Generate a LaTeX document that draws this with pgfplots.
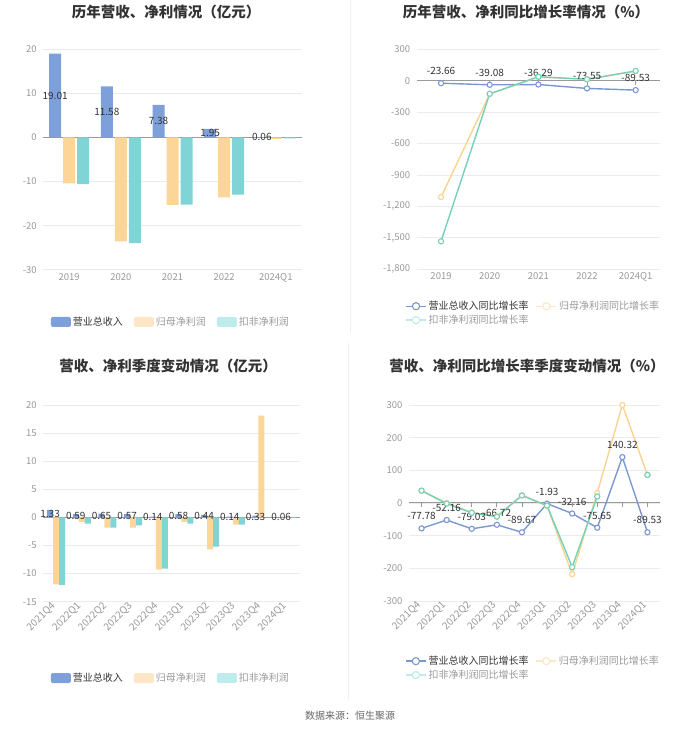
\documentclass[border=0pt]{standalone}
\usepackage{pgfplots}
\pgfplotsset{compat=1.18}
\usepackage{fontspec}
\setmainfont{Noto Sans CJK SC}
\definecolor{cRev}{HTML}{7EA0DA}
\definecolor{cNet}{HTML}{FCD699}
\definecolor{cDed}{HTML}{80D4D6}
\definecolor{cRevLine}{HTML}{7B97D2}
\definecolor{cNetLine}{HTML}{FBD391}
\definecolor{cDedLine}{HTML}{74D1B8}
\definecolor{cNetLg}{HTML}{FEE6C6}
\definecolor{cDedLg}{HTML}{BEEBEB}
\definecolor{txt}{HTML}{333333}
\definecolor{tickc}{HTML}{999999}
\definecolor{gridc}{HTML}{EBEBEB}
\definecolor{zeroc}{HTML}{9A9A9A}
\definecolor{sepc}{HTML}{F0F0F0}
\pgfplotsset{
  panel/.style={
    scale only axis, anchor=south west, clip=false,
    axis line style={draw=none}, tick style={draw=none},
    ymajorgrids, grid style={draw=gridc, line width=0.8pt},
    ticklabel style={font=\fontsize{9.5}{11}\selectfont, text=tickc},
    yticklabel style={xshift=-3pt},
    /pgf/number format/assume math mode=true,
    /pgf/number format/1000 sep={,},
    legend style={draw=none, fill=none, font=\fontsize{10}{12}\selectfont, text=txt,
      /tikz/every even column/.append style={column sep=9pt}},
    legend cell align=left,
  },
  lbl/.style={draw=none, forget plot, nodes near coords, point meta=explicit symbolic,
    nodes near coords style={anchor=center, font=\fontsize{10}{12}\selectfont, text=txt, inner sep=0pt}},
  barlg/.style={legend image code/.code={\fill[#1, rounded corners=2pt] (0pt,-5pt) rectangle (20pt,5pt);}},
  linelg/.style={legend image code/.code={\draw[#1, line width=1.4pt] (0pt,0pt) -- (20pt,0pt); \draw[#1, line width=1.1pt, fill=white] (10pt,0pt) circle (3.6pt);}},
  lineplot/.style={color=#1, line width=1.4pt, mark=*, mark size=2.6pt, mark options={fill=white, line width=1.1pt}},
}
\begin{document}
\begin{tikzpicture}[x=1pt,y=1pt]
\path[use as bounding box] (0pt,0pt) rectangle (700pt,733pt);
\draw[sepc, line width=0.8pt] (350.5pt,733pt) -- (350.5pt,400pt);
\draw[sepc, line width=0.8pt] (348pt,390pt) -- (348pt,33pt);
% titles
\node[font=\bfseries\fontsize{14.5}{16}\selectfont, text=txt] at (166pt,721pt) {历年营收、净利情况（亿元）};
\node[font=\bfseries\fontsize{14.5}{16}\selectfont, text=txt] at (526pt,721pt) {历年营收、净利同比增长率情况（\%）};
\node[font=\bfseries\fontsize{14.5}{16}\selectfont, text=txt] at (168pt,367pt) {营收、净利季度变动情况（亿元）};
\node[font=\bfseries\fontsize{14.5}{16}\selectfont, text=txt] at (527pt,367pt) {营收、净利同比增长率季度变动情况（\%）};
\node[font=\fontsize{10}{12}\selectfont, text=black!60] at (350pt,17pt) {数据来源：恒生聚源};

% ---------- Panel 1 ----------
\begin{axis}[panel, at={(43.3pt,463.3pt)}, width=258.4pt, height=220.4pt,
  xmin=-0.5, xmax=4.5, ymin=-30, ymax=20, ytick={-30,-20,...,20},
  xtick={0,1,2,3,4}, xticklabels={2019,2020,2021,2022,2024Q1},
  legend columns=3, legend style={at={(0.494,-0.237)}, anchor=center}]
\draw[zeroc, line width=1pt] (axis cs:-0.5,0) -- (axis cs:4.5,0);
\addplot[ybar, bar width=12pt, bar shift=-14pt, fill=cRev, draw=none, barlg=cRev]
  coordinates {(0,19.01) (1,11.58) (2,7.38) (3,1.95) (4,0.06)};
\addlegendentry{营业总收入}
\addplot[ybar, bar width=12pt, bar shift=0pt, fill=cNet, draw=none, barlg=cNetLg]
  coordinates {(0,-10.4) (1,-23.6) (2,-15.3) (3,-13.6) (4,-0.3)};
\addlegendentry[text=tickc]{归母净利润}
\addplot[ybar, bar width=12pt, bar shift=14pt, fill=cDed, draw=none, barlg=cDedLg]
  coordinates {(0,-10.6) (1,-24.0) (2,-15.25) (3,-12.95) (4,-0.2)};
\addlegendentry[text=tickc]{扣非净利润}
\addplot[lbl] coordinates {(-0.271,9.505)[19.01] (0.729,5.79)[11.58] (1.729,3.69)[7.38] (2.729,0.975)[1.95] (3.729,0.03)[0.06]};
\end{axis}

% ---------- Panel 2 ----------
\begin{axis}[panel, at={(416.7pt,463.7pt)}, width=243.3pt, height=220pt,
  xmin=-0.5, xmax=4.5, ymin=-1800, ymax=300, ytick={-1800,-1500,...,300},
  xtick={0,1,2,3,4}, xticklabels={2019,2020,2021,2022,2024Q1},
  legend columns=2, legend style={at={(-0.06,-0.126)}, anchor=north west,
    /tikz/every even column/.append style={column sep=5pt}}]
\draw[zeroc, line width=1pt] (axis cs:-0.5,0) -- (axis cs:4.5,0);
\pgfplotsinvokeforeach{0,...,4}{\draw[zeroc, line width=0.8pt] (axis cs:#1,0) -- ++(0pt,-4pt);}
\addplot[lineplot=cRevLine, linelg=cRevLine, nodes near coords, point meta=explicit symbolic,
  nodes near coords style={anchor=center, yshift=12pt, font=\fontsize{10}{12}\selectfont, text=txt, inner sep=0pt}]
  coordinates {(0,-23.66)[-23.66] (1,-39.08)[-39.08] (2,-36.29)[-36.29] (3,-73.55)[-73.55] (4,-89.53)[-89.53]};
\addlegendentry{营业总收入同比增长率}
\addplot[lineplot=cNetLine, linelg=cNetLg]
  coordinates {(0,-1111) (1,-127) (2,35) (3,13) (4,92)};
\addlegendentry[text=tickc]{归母净利润同比增长率}
\addplot[lineplot=cDedLine, linelg=cDedLg]
  coordinates {(0,-1533) (1,-125) (2,38) (3,14) (4,93)};
\addlegendentry[text=tickc]{扣非净利润同比增长率}
\end{axis}

% ---------- Panel 3 ----------
\begin{axis}[panel, at={(43.3pt,131.3pt)}, width=256.7pt, height=196.7pt,
  xmin=-0.5, xmax=9.5, ymin=-15, ymax=20, ytick={-15,-10,...,20},
  xtick={0,...,9}, xticklabels={2021Q4,2022Q1,2022Q2,2022Q3,2022Q4,2023Q1,2023Q2,2023Q3,2023Q4,2024Q1},
  xticklabel style={rotate=45, anchor=east, font=\fontsize{10}{11}\selectfont},
  legend columns=3, legend style={at={(0.497,-0.388)}, anchor=center}]
\draw[zeroc, line width=1pt] (axis cs:-0.5,0) -- (axis cs:9.5,0);
\addplot[ybar, bar width=6pt, bar shift=-6pt, fill=cRev, draw=none, barlg=cRev]
  coordinates {(0,1.33) (1,0.59) (2,0.65) (3,0.57) (4,0.14) (5,0.58) (6,0.44) (7,0.14) (8,0.33) (9,0.06)};
\addlegendentry{营业总收入}
\addplot[ybar, bar width=6pt, bar shift=0pt, fill=cNet, draw=none, barlg=cNetLg]
  coordinates {(0,-11.9) (1,-0.8) (2,-1.8) (3,-1.8) (4,-9.3) (5,-0.8) (6,-5.7) (7,-1.3) (8,18.1) (9,-0.1)};
\addlegendentry[text=tickc]{归母净利润}
\addplot[ybar, bar width=6pt, bar shift=6pt, fill=cDed, draw=none, barlg=cDedLg]
  coordinates {(0,-12.0) (1,-1.1) (2,-1.8) (3,-1.4) (4,-9.1) (5,-1.1) (6,-5.2) (7,-1.3) (8,0) (9,-0.1)};
\addlegendentry[text=tickc]{扣非净利润}
\addplot[lbl] coordinates {(-0.234,0.665)[1.33] (0.766,0.295)[0.59] (1.766,0.325)[0.65] (2.766,0.285)[0.57] (3.766,0.07)[0.14] (4.766,0.29)[0.58] (5.766,0.22)[0.44] (6.766,0.07)[0.14] (7.766,0.165)[0.33] (8.766,0.03)[0.06]};
\end{axis}

% ---------- Panel 4 ----------
\begin{axis}[panel, at={(409pt,132pt)}, width=251pt, height=196pt,
  xmin=-0.5, xmax=9.5, ymin=-300, ymax=300, ytick={-300,-200,...,300},
  xtick={0,...,9}, xticklabels={2021Q4,2022Q1,2022Q2,2022Q3,2022Q4,2023Q1,2023Q2,2023Q3,2023Q4,2024Q1},
  xticklabel style={rotate=45, anchor=east, font=\fontsize{10}{11}\selectfont}, unbounded coords=jump,
  legend columns=2, legend style={at={(-0.028,-0.26)}, anchor=north west,
    /tikz/every even column/.append style={column sep=5pt}}]
\draw[zeroc, line width=1pt] (axis cs:-0.5,0) -- (axis cs:9.5,0);
\pgfplotsinvokeforeach{0,...,9}{\draw[zeroc, line width=0.8pt] (axis cs:#1,0) -- ++(0pt,-4pt);}
\addplot[lineplot=cRevLine, linelg=cRevLine, nodes near coords, point meta=explicit symbolic,
  nodes near coords style={anchor=center, yshift=12pt, font=\fontsize{10}{12}\selectfont, text=txt, inner sep=0pt}]
  coordinates {(0,-77.78)[-77.78] (1,-52.16)[-52.16] (2,-79.03)[-79.03] (3,-66.72)[-66.72] (4,-89.67)[-89.67] (5,-1.93)[-1.93] (6,-32.16)[-32.16] (7,-75.65)[-75.65] (8,140.32)[140.32] (9,-89.53)[-89.53]};
\addlegendentry{营业总收入同比增长率}
\addplot[lineplot=cNetLine, linelg=cNetLg]
  coordinates {(0,37) (1,0) (2,-29) (3,-41) (4,24) (5,-9) (6,-218) (7,31) (8,300) (9,86)};
\addlegendentry[text=tickc]{归母净利润同比增长率}
\addplot[lineplot=cDedLine, linelg=cDedLg]
  coordinates {(0,38) (1,-2) (2,-30) (3,-42) (4,23) (5,-8) (6,-196) (7,20) (8,nan) (9,86)};
\addlegendentry[text=tickc]{扣非净利润同比增长率}
\end{axis}
\end{tikzpicture}
\end{document}
